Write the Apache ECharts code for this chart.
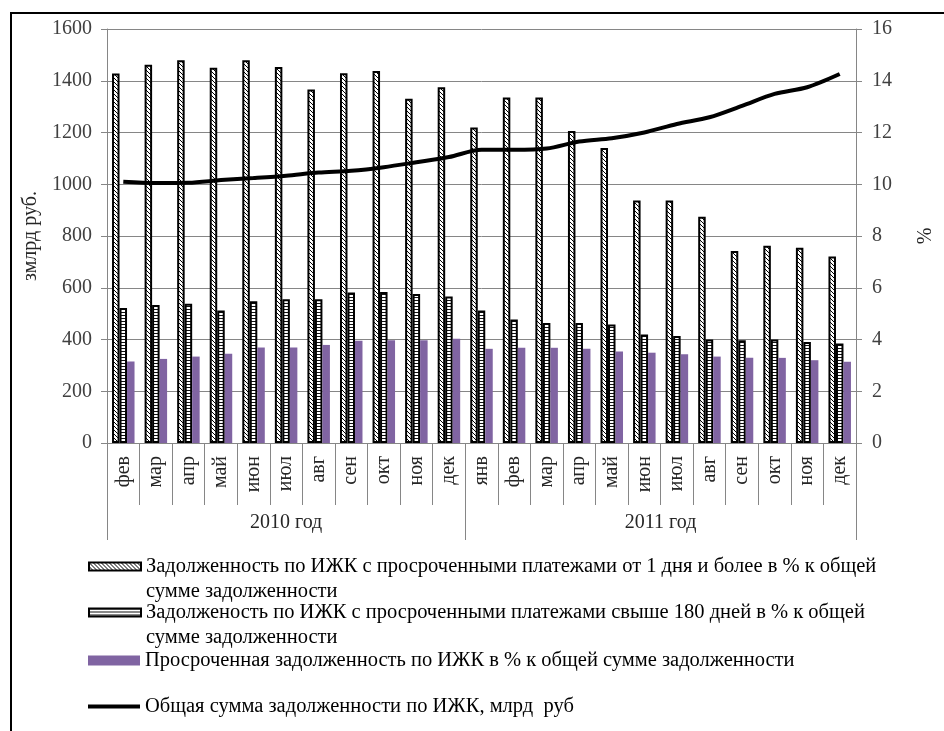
<!DOCTYPE html>
<html>
<head>
<meta charset="utf-8">
<script src="https://cdn.jsdelivr.net/npm/echarts@6.0.0/dist/echarts.min.js"></script>
<style>
html,body{margin:0;padding:0;background:#fff;}
#frame{position:absolute;left:10px;top:12px;width:1000px;height:800px;border:2px solid #000;}
#chart{position:absolute;left:0;top:0;width:944px;height:731px;}
</style>
</head>
<body>
<div id="frame"></div>
<div id="chart"></div>
<script>
// подписи по оси X
var months2010 = ['фев','мар','апр','май','июн','июл','авг','сен','окт','ноя','дек'];
var months2011 = ['янв','фев','мар','апр','май','июн','июл','авг','сен','окт','ноя','дек'];
var yearLabels = ['2010 год','2011 год'];

// % к общей сумме задолженности (правая ось)
var over1day = [14.28,14.62,14.79,14.50,14.79,14.53,13.66,14.29,14.38,13.30,13.75,
                12.19,13.35,13.35,12.06,11.40,9.37,9.37,8.74,7.42,7.62,7.55,7.21];
var over180days = [5.22,5.33,5.38,5.12,5.48,5.56,5.56,5.82,5.84,5.76,5.66,
                   5.12,4.77,4.64,4.64,4.58,4.19,4.14,4.00,3.97,4.00,3.90,3.85];
var overdue = [3.15,3.25,3.34,3.45,3.69,3.69,3.79,3.95,3.97,3.97,4.03,
               3.64,3.68,3.68,3.64,3.54,3.49,3.43,3.34,3.29,3.29,3.20,3.14];
// млрд руб (левая ось)
var totalDebt = [1010,1005,1006,1016,1024,1033,1045,1052,1066,1085,1105,
                 1133,1133,1138,1165,1178,1200,1233,1259,1303,1349,1375,1426];

// легенда, по строкам
var nameOver1 = ['Задолженность по ИЖК с просроченными платежами от 1 дня и более в % к общей','сумме задолженности'];
var nameOver180 = ['Задолженость по ИЖК с просроченными платежами свыше 180 дней в % к общей','сумме задолженности'];
var nameOverdue = ['Просроченная задолженность по ИЖК в % к общей сумме задолженности'];
var nameTotal = ['Общая сумма задолженности по ИЖК, млрд  руб'];

var FONT = 'Liberation Serif';
var categories = months2010.concat(months2011);
var yearBounds = [0, months2010.length, months2010.length + months2011.length];
var yearCenters = [yearBounds[0] + months2010.length / 2, yearBounds[1] + months2011.length / 2];

function hatchCanvas(){
	var c = document.createElement('canvas');
	c.width = 4; c.height = 4;
	var ctx = c.getContext('2d');
	ctx.fillStyle = '#fff';
	ctx.fillRect(0,0,4,4);
	ctx.fillStyle = '#000';
	for(var i=0;i<4;i++){
		ctx.fillRect(i,i,1,1);
	}
	return c;
}
function stripeCanvas(){
	var c = document.createElement('canvas');
	c.width = 4; c.height = 3;
	var ctx = c.getContext('2d');
	ctx.fillStyle = '#fff';
	ctx.fillRect(0,0,4,3);
	ctx.fillStyle = '#111';
	ctx.fillRect(0,0,4,1);
	return c;
}

var fullName = function(lines){ return lines.join(' '); };
// пустая строка сверху, чтобы значок стоял напротив первой строки
var wrapped = {};
[nameOver1,nameOver180,nameOverdue,nameTotal].forEach(function(l){
	wrapped[fullName(l)] = l.length>1 ? ' \n'+l.join('\n') : l[0];
});

function legendItem(lines, top, h, icon){
	return {
		data:[{name:fullName(lines),icon:icon||'rect'}],
		left:83,
		top:top,
		orient:'vertical',
		itemWidth:52,
		itemHeight:h,
		selectedMode:false,
		formatter:function(name){ return wrapped[name]; },
		textStyle:{
			fontFamily:FONT,
			fontSize:20.5,
			color:'#000',
			lineHeight:25
		}
	};
}

var myChart = echarts.init(document.getElementById('chart'));
myChart.setOption({
	animation:false,
	grid:{left:107,right:76,top:29,bottom:288},
	legend:[
		legendItem(nameOver1,524,8),
		legendItem(nameOver180,570,8),
		legendItem(nameOverdue,643,10),
		legendItem(nameTotal,689,4)
	],
	xAxis:[
		{
			type:'category',
			data:categories,
			axisLine:{lineStyle:{color:'#868686'}},
			axisTick:{show:true,interval:0,length:62,lineStyle:{color:'#868686'}},
			axisLabel:{interval:0,rotate:90,margin:13,fontFamily:FONT,fontSize:20,color:'#262626'}
		},
		{
			type:'value',
			min:0,
			max:yearBounds[2],
			position:'bottom',
			axisLine:{show:false},
			splitLine:{show:false},
			axisTick:{show:true,customValues:yearBounds,length:97,lineStyle:{color:'#868686'}},
			axisLabel:{
				customValues:yearCenters,
				margin:70,
				fontFamily:FONT,fontSize:20,color:'#262626',
				formatter:function(v){ return v<yearBounds[1]?yearLabels[0]:yearLabels[1]; }
			}
		}
	],
	yAxis:[
		{
			type:'value',
			min:0,max:1600,interval:200,
			name:'змлрд руб.',
			nameLocation:'middle',
			nameGap:64,
			nameRotate:90,
			nameTextStyle:{fontFamily:FONT,fontSize:20,color:'#262626'},
			axisLine:{show:true,lineStyle:{color:'#868686'}},
			axisTick:{show:true,length:6,lineStyle:{color:'#868686'}},
			axisLabel:{margin:15,fontFamily:FONT,fontSize:20,color:'#404040',formatter:function(v){return String(v);}},
			splitLine:{lineStyle:{color:'#868686'}}
		},
		{
			type:'value',
			min:0,max:16,interval:2,
			name:'%',
			nameLocation:'middle',
			nameGap:60,
			nameRotate:90,
			nameTextStyle:{fontFamily:FONT,fontSize:20,color:'#262626'},
			axisLine:{show:true,lineStyle:{color:'#868686'}},
			axisTick:{show:true,length:6,lineStyle:{color:'#868686'}},
			axisLabel:{margin:16,fontFamily:FONT,fontSize:20,color:'#404040'},
			splitLine:{show:false}
		}
	],
	series:[
		{
			name:fullName(nameOver1),
			type:'bar',
			yAxisIndex:1,
			barWidth:7.5,
			barGap:'0%',
			data:over1day,
			itemStyle:{color:{image:hatchCanvas(),repeat:'repeat'},borderColor:'#000',borderWidth:2}
		},
		{
			name:fullName(nameOver180),
			type:'bar',
			yAxisIndex:1,
			barWidth:7.5,
			barGap:'0%',
			data:over180days,
			itemStyle:{color:{image:stripeCanvas(),repeat:'repeat'},borderColor:'#000',borderWidth:2}
		},
		{
			name:fullName(nameOverdue),
			type:'bar',
			yAxisIndex:1,
			barWidth:7.5,
			barGap:'0%',
			data:overdue,
			itemStyle:{color:'#8064A2'}
		},
		{
			name:fullName(nameTotal),
			type:'line',
			yAxisIndex:0,
			data:totalDebt,
			symbol:'none',
			smooth:0.3,
			z:5,
			itemStyle:{color:'#000'},
			lineStyle:{color:'#000',width:4}
		}
	]
});
</script>
</body>
</html>
